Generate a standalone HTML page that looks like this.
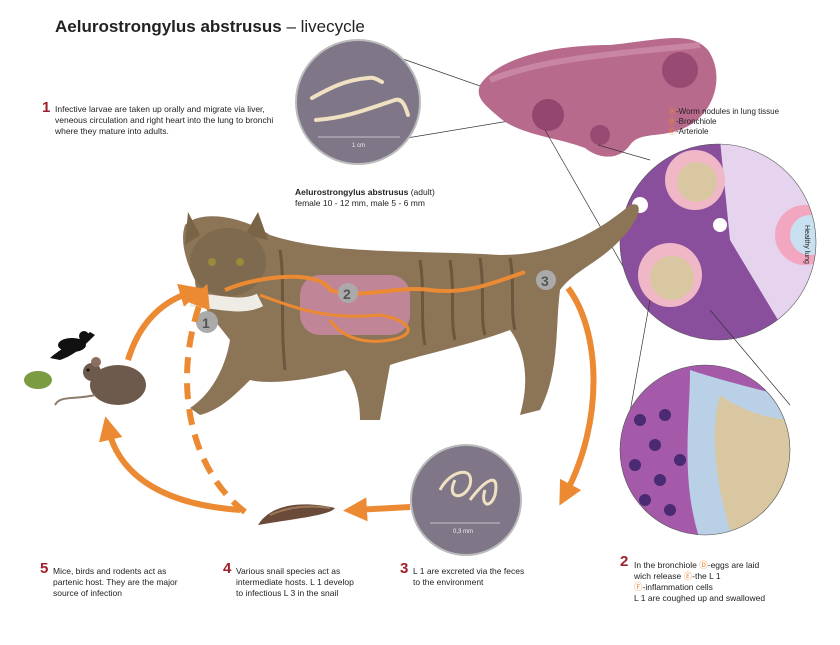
<!DOCTYPE html>
<html><head><meta charset="utf-8">
<style>
html,body{margin:0;padding:0;background:#fff;}
body{width:840px;height:645px;position:relative;overflow:hidden;font-family:"Liberation Sans",sans-serif;color:#222;}
.t{position:absolute;font-size:8.5px;line-height:11px;}
.n{position:absolute;font-size:15px;font-weight:bold;color:#a0202a;}
svg{position:absolute;left:0;top:0;}
</style></head><body>
<svg width="840" height="645" viewBox="0 0 840 645">
<defs>
<marker id="ah" markerWidth="4" markerHeight="4" refX="2" refY="2" orient="auto"><path d="M0,0 L4,2 L0,4 Z" fill="#ec8a33"/></marker>
<clipPath id="c1"><circle cx="718" cy="242" r="98"/></clipPath>
<clipPath id="c2"><circle cx="705" cy="450" r="85"/></clipPath>
</defs>
<line x1="383" y1="52" x2="520" y2="100" stroke="#333" stroke-width="0.7"/>
<line x1="395" y1="140" x2="545" y2="115" stroke="#333" stroke-width="0.7"/>
<circle cx="358" cy="102" r="62" fill="#7f7688" stroke="#bbb" stroke-width="2"/>
<path d="M312,98 C330,88 345,80 368,78 C375,77 378,80 382,82" stroke="#efe1c2" stroke-width="4" fill="none" stroke-linecap="round"/>
<path d="M316,120 C345,118 365,110 395,100 C402,98 405,105 408,115" stroke="#efe1c2" stroke-width="4" fill="none" stroke-linecap="round"/>
<line x1="318" y1="137" x2="400" y2="137" stroke="#ddd" stroke-width="0.8"/>
<text x="352" y="147" font-size="6" fill="#eee" font-family="Liberation Sans">1 cm</text>
<path d="M480,85 C500,55 560,45 610,45 C660,40 690,30 708,50 C725,75 715,110 690,125 C665,140 640,130 630,145 C620,160 600,160 585,148 C560,138 520,135 500,118 C485,105 475,98 480,85 Z" fill="#b76a8c"/>
<path d="M490,80 C540,60 600,55 700,45" stroke="#d49ab2" stroke-width="6" fill="none" opacity="0.6"/>
<circle cx="548" cy="115" r="16" fill="#8b3d66" opacity="0.8"/>
<circle cx="680" cy="70" r="18" fill="#8b3d66" opacity="0.7"/>
<circle cx="600" cy="135" r="10" fill="#8b3d66" opacity="0.7"/>
<line x1="598" y1="145" x2="650" y2="160" stroke="#333" stroke-width="0.7"/>
<line x1="545" y1="130" x2="628" y2="275" stroke="#333" stroke-width="0.7"/>
<g clip-path="url(#c1)">
<rect x="615" y="140" width="210" height="210" fill="#8a4f9c"/>
<polygon points="720,140 830,140 830,340 790,340 730,240" fill="#e6d4ef"/>
<circle cx="670" cy="275" r="32" fill="#f0b8c6"/>
<circle cx="672" cy="278" r="22" fill="#d8c7a0"/>
<circle cx="695" cy="180" r="30" fill="#f0b8c6"/>
<circle cx="697" cy="182" r="20" fill="#d8c7a0"/>
<circle cx="805" cy="235" r="30" fill="#f2a6bf"/>
<circle cx="810" cy="235" r="20" fill="#c9e0f0"/>
<circle cx="640" cy="205" r="8" fill="#fff"/>
<circle cx="720" cy="225" r="7" fill="#fff"/>
</g>
<circle cx="718" cy="242" r="98" fill="none" stroke="#555" stroke-width="0.6"/>
<line x1="710" y1="310" x2="790" y2="405" stroke="#333" stroke-width="0.7"/>
<line x1="650" y1="300" x2="625" y2="440" stroke="#333" stroke-width="0.7"/>
<text x="805" y="225" font-size="7" fill="#222" transform="rotate(90 805 225)" font-family="Liberation Sans">Healthy lung</text>
<g clip-path="url(#c2)">
<rect x="615" y="360" width="180" height="180" fill="#a45aa8"/>
<path d="M690,370 C720,380 760,390 800,400 L800,540 L700,540 C680,480 690,420 690,370 Z" fill="#b9d0e6"/>
<path d="M720,395 C740,410 770,420 795,420 L795,530 L730,530 C715,480 710,430 720,395 Z" fill="#d8c7a0"/>
<g fill="#4a2a72">
<circle cx="640" cy="420" r="6"/><circle cx="655" cy="445" r="6"/><circle cx="635" cy="465" r="6"/><circle cx="660" cy="480" r="6"/><circle cx="645" cy="500" r="6"/><circle cx="670" cy="510" r="6"/><circle cx="680" cy="460" r="6"/><circle cx="665" cy="415" r="6"/>
</g>
</g>
<circle cx="705" cy="450" r="85" fill="none" stroke="#555" stroke-width="0.6"/>
<circle cx="466" cy="500" r="55" fill="#7f7688" stroke="#bbb" stroke-width="2"/>
<path d="M440,490 C450,470 475,465 470,485 C465,500 445,500 455,480" stroke="#efe1c2" stroke-width="3" fill="none"/>
<path d="M470,500 C485,480 500,470 495,495 C490,510 480,505 485,490" stroke="#efe1c2" stroke-width="3" fill="none"/>
<line x1="430" y1="523" x2="500" y2="523" stroke="#ddd" stroke-width="0.8"/>
<text x="453" y="533" font-size="6" fill="#eee" font-family="Liberation Sans">0,3 mm</text>
<!-- cat -->
<path d="M185,225 C200,210 240,215 270,235 C330,255 420,250 500,255 C560,255 600,230 630,205 C645,200 640,220 620,240 C600,262 575,270 560,290 C555,330 560,370 540,410 L520,415 C530,380 525,350 510,330 C470,345 420,355 390,365 L380,420 L360,420 C360,400 355,380 345,370 C310,380 270,385 250,380 C235,395 220,410 200,415 L190,408 C210,395 225,370 230,340 C215,320 195,300 195,280 C185,260 180,240 185,225 Z" fill="#8c7556"/>
<path d="M188,212 L200,235 L185,245 Z" fill="#7a6448"/>
<path d="M258,212 L268,240 L245,235 Z" fill="#7a6448"/>
<ellipse cx="228" cy="262" rx="38" ry="34" fill="#7e6a4e"/>
<circle cx="212" cy="262" r="4" fill="#9a8a3a"/><circle cx="240" cy="262" r="4" fill="#9a8a3a"/>
<g stroke="#4a3a28" stroke-width="3" opacity="0.5" fill="none">
<path d="M420,260 C425,290 420,320 425,345"/><path d="M450,260 C455,290 450,320 455,340"/><path d="M480,258 C485,290 480,320 485,335"/><path d="M510,258 C515,285 510,310 515,330"/><path d="M280,250 C285,280 280,320 285,370"/>
</g>
<path d="M190,300 C215,300 240,310 260,300" stroke="#efece5" stroke-width="14" fill="none"/>
<rect x="300" y="275" width="110" height="60" rx="20" fill="#c98aa2" opacity="0.85"/>
<path d="M225,290 C260,275 320,270 330,290 C360,300 400,285 430,290 C470,295 500,280 525,272" stroke="#ec8a33" stroke-width="4" fill="none"/>
<path d="M260,295 C300,310 330,320 380,315 C410,320 420,335 390,340 C360,345 340,335 330,320" stroke="#ec8a33" stroke-width="3" fill="none"/>
<circle cx="348" cy="293" r="10" fill="#aaa"/><text x="343" y="299" font-size="14" font-weight="bold" fill="#555" font-family="Liberation Sans">2</text>
<circle cx="546" cy="280" r="10" fill="#aaa"/><text x="541" y="286" font-size="14" font-weight="bold" fill="#555" font-family="Liberation Sans">3</text>
<circle cx="207" cy="322" r="11" fill="#aaa"/><text x="202" y="328" font-size="14" font-weight="bold" fill="#555" font-family="Liberation Sans">1</text>
<path d="M568,288 C600,330 605,420 565,495" stroke="#ec8a33" stroke-width="6" fill="none" marker-end="url(#ah)"/>
<path d="M410,507 L355,510" stroke="#ec8a33" stroke-width="6" fill="none" marker-end="url(#ah)"/>
<path d="M240,510 C170,505 120,480 108,428" stroke="#ec8a33" stroke-width="6" fill="none" marker-end="url(#ah)"/>
<path d="M245,512 C190,470 170,380 203,295" stroke="#ec8a33" stroke-width="6" fill="none" stroke-dasharray="16,10" marker-end="url(#ah)"/>
<path d="M128,360 C140,320 165,300 192,292" stroke="#ec8a33" stroke-width="6" fill="none" marker-end="url(#ah)"/>
<path d="M258,525 C270,505 300,500 335,508 C330,515 300,518 258,525 Z" fill="#6b4a3a"/>
<path d="M270,515 C290,506 310,505 330,508" stroke="#9a7a5a" stroke-width="2" fill="none"/>
<ellipse cx="118" cy="385" rx="28" ry="20" fill="#6d5a4c"/>
<circle cx="92" cy="372" r="9" fill="#6d5a4c"/>
<circle cx="96" cy="362" r="5" fill="#8a6f60"/>
<circle cx="88" cy="370" r="1.5" fill="#111"/>
<path d="M95,395 C75,400 60,395 55,405" stroke="#8c7a6a" stroke-width="2" fill="none"/>
<path d="M50,358 C65,345 80,340 90,332 L95,335 C85,345 75,355 60,360 Z" fill="#111"/>
<ellipse cx="72" cy="345" rx="14" ry="7" fill="#111"/>
<circle cx="84" cy="336" r="5" fill="#111"/>
<ellipse cx="38" cy="380" rx="14" ry="9" fill="#7c9c42"/>
</svg>

<div style="position:absolute;left:55px;top:17px;font-size:17px;"><b>Aelurostrongylus abstrusus</b> – livecycle</div>
<div class="n" style="left:42px;top:99px;">1</div>
<div class="t" style="left:55px;top:104px;">Infective larvae are taken up orally and migrate via liver,<br>veneous circulation and right heart into the lung to bronchi<br>where they mature into adults.</div>
<div class="t" style="left:295px;top:187px;"><b>Aelurostrongylus abstrusus</b> (adult)<br>female 10 - 12 mm, male 5 - 6 mm</div>
<div class="t" style="left:668px;top:107px;line-height:10px;font-size:8px;"><span style="color:#ec8a33">Ⓐ</span>-Worm nodules in lung tissue<br><span style="color:#ec8a33">Ⓑ</span>-Bronchiole<br><span style="color:#ec8a33">Ⓒ</span>-Arteriole</div>
<div class="n" style="left:40px;top:560px;">5</div>
<div class="t" style="left:53px;top:566px;">Mice, birds and rodents act as<br>partenic host. They are the major<br>source of infection</div>
<div class="n" style="left:223px;top:560px;">4</div>
<div class="t" style="left:236px;top:566px;">Various snail species act as<br>intermediate hosts. L 1 develop<br>to infectious L 3 in the snail</div>
<div class="n" style="left:400px;top:560px;">3</div>
<div class="t" style="left:413px;top:566px;">L 1 are excreted via the feces<br>to the environment</div>
<div class="n" style="left:620px;top:553px;">2</div>
<div class="t" style="left:634px;top:560px;">In the bronchiole <span style="color:#ec8a33">Ⓓ</span>-eggs are laid<br>wich release <span style="color:#ec8a33">Ⓔ</span>-the L 1<br><span style="color:#ec8a33">Ⓕ</span>-inflammation cells<br>L 1 are coughed up and swallowed</div>
</body></html>
